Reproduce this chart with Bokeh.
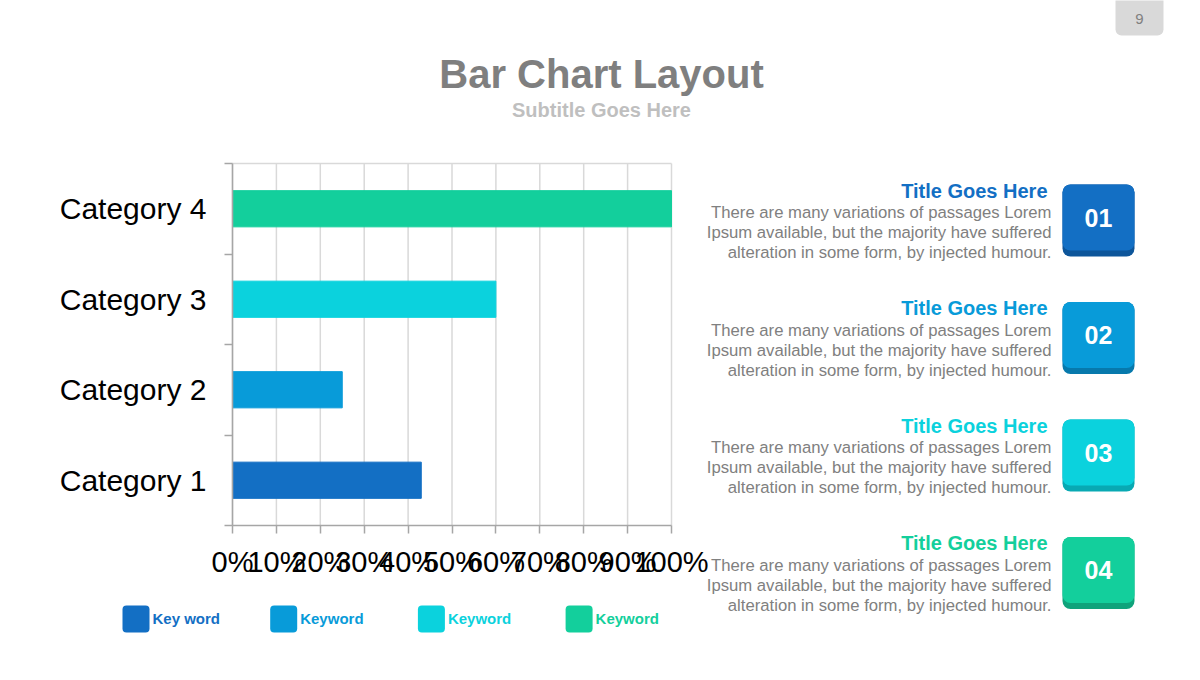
from bokeh.plotting import figure
from bokeh.models import (ColumnDataSource, FixedTicker, Label, BoxAnnotation,
                          NumeralTickFormatter, LinearAxis, Range1d)
from bokeh.embed import file_html
from bokeh.resources import INLINE

# ---------------- data ----------------
categories = ["Category 1", "Category 2", "Category 3", "Category 4"]
values = [0.43, 0.25, 0.60, 1.00]
bar_colors = ["#136FC4", "#089BD9", "#0BD2DD", "#13CF9C"]
shadow_colors = ["#0D559A", "#0779AC", "#08A9B3", "#0FA37B"]
x_ticks = [0.0, 0.1, 0.2, 0.3, 0.4, 0.5, 0.6, 0.7, 0.8, 0.9, 1.0]
legend_labels = ["Key word", "Keyword", "Keyword", "Keyword"]
item_titles = ["Title Goes Here", "Title Goes Here", "Title Goes Here", "Title Goes Here"]
item_numbers = ["01", "02", "03", "04"]
body_lines = ["There are many variations of passages Lorem",
              "Ipsum available, but the majority have suffered",
              "alteration in some form, by injected humour."]
main_title = "Bar Chart Layout"
sub_title = "Subtitle Goes Here"
page_no = "9"

FONT = "Liberation Sans"
W, H = 1200, 680
# plot-area edges on the canvas (pixels)
FL, FR, FT, FB = 232, 671, 163, 525
N = len(categories)

# ranges chosen so the data area 0..1 x 0..N lands on the plot-area edges
px_x = (FR - FL) / 1.0
px_y = (FB - FT) / N
x_range = Range1d(-FL / px_x, (W - FL) / px_x)
y_range = Range1d(-(H - FB) / px_y, N + FT / px_y)

src = ColumnDataSource(dict(
    y=[i + 0.5 for i in range(N)],
    value=values,
    color=bar_colors,
))

p = figure(width=W, height=H, x_range=x_range, y_range=y_range,
           output_backend="svg", toolbar_location=None, title=None,
           x_axis_location=None, y_axis_location=None,
           min_border=0)
p.background_fill_color = "white"
p.border_fill_color = "white"
p.outline_line_color = None
p.grid.visible = False

# grid lines (at every x tick) and the top border of the plot area
p.segment(x0=x_ticks, y0=[0] * len(x_ticks), x1=x_ticks, y1=[N] * len(x_ticks),
          line_color="#D9D9D9", line_width=1.5)
p.segment(x0=[x_ticks[0]], y0=[N], x1=[x_ticks[-1]], y1=[N],
          line_color="#D9D9D9", line_width=1.5)

p.hbar(y="y", left=0, right="value", height=0.4, color="color", source=src)

# x axis
xaxis = LinearAxis(fixed_location=0, bounds=(0, 1))
xaxis.ticker = FixedTicker(ticks=x_ticks)
xaxis.formatter = NumeralTickFormatter(format="0%")
xaxis.major_label_text_font = FONT
xaxis.major_label_text_font_size = "29px"
xaxis.major_label_text_color = "black"
xaxis.major_tick_out = 8
xaxis.major_tick_in = 0
xaxis.minor_tick_line_color = None
xaxis.axis_line_color = "#A6A6A6"
xaxis.axis_line_width = 1.5
xaxis.major_tick_line_color = "#A6A6A6"
xaxis.major_tick_line_width = 1.5
xaxis.major_label_standoff = 12
p.add_layout(xaxis, "below")

# y axis
yaxis = LinearAxis(fixed_location=0, bounds=(0, N))
yaxis.ticker = FixedTicker(ticks=[i + 0.5 for i in range(N)],
                           minor_ticks=list(range(N + 1)))
yaxis.major_label_overrides = {i + 0.5: c for i, c in enumerate(categories)}
yaxis.major_label_text_font = FONT
yaxis.major_label_text_font_size = "30px"
yaxis.major_label_text_color = "black"
yaxis.major_tick_out = 0
yaxis.major_tick_in = 0
yaxis.major_tick_line_color = None
yaxis.minor_tick_out = 8
yaxis.minor_tick_in = 0
yaxis.minor_tick_line_color = "#A6A6A6"
yaxis.minor_tick_line_width = 1.5
yaxis.axis_line_color = "#A6A6A6"
yaxis.axis_line_width = 1.5
yaxis.major_label_standoff = 18
p.add_layout(yaxis, "left")


def sx(X):
    return X


def sy(Y):
    return H - Y


def lab(X, Y, text, size, color, align="center", bold=False):
    p.add_layout(Label(x=sx(X), y=sy(Y), x_units="screen", y_units="screen",
                       text=text, text_font=FONT, text_font_size=size,
                       text_color=color, text_align=align, text_baseline="middle",
                       text_font_style="bold" if bold else "normal"))


def box(x0, y0, x1, y1, color, radius):
    p.add_layout(BoxAnnotation(left=sx(x0), right=sx(x1), top=sy(y0), bottom=sy(y1),
                               left_units="screen", right_units="screen",
                               top_units="screen", bottom_units="screen",
                               fill_color=color, fill_alpha=1.0, line_color=None,
                               border_radius=radius))


# titles
lab(601, 73, main_title, "40px", "#7F7F7F", bold=True)
lab(601, 109, sub_title, "20px", "#BFBFBF", bold=True)

# page number
box(1115, -10, 1163, 35, "#D9D9D9", 6)
lab(1139, 18, page_no, "15px", "#808080")

# legend
for i, (t, c) in enumerate(zip(legend_labels, bar_colors)):
    x0 = 122 + i * 147.7
    box(x0, 605, x0 + 27, 632, c, 4)
    lab(x0 + 30, 618, t, "15px", c, align="left", bold=True)

# right panel
for i in range(len(item_titles)):
    dy = i * 117.5
    lab(1047, 190 + dy, item_titles[i], "20px", bar_colors[i], align="right", bold=True)
    for j, line in enumerate(body_lines):
        lab(1051, 212 + j * 20 + dy, line, "16.7px", "#808080", align="right")
    top = 184 + dy
    box(1062, top, 1134, top + 72, shadow_colors[i], 8)
    box(1062, top, 1134, top + 66, bar_colors[i], 8)
    lab(1098, top + 33, item_numbers[i], "25px", "white", bold=True)

open("out.html", "w").write(file_html(p, INLINE))
